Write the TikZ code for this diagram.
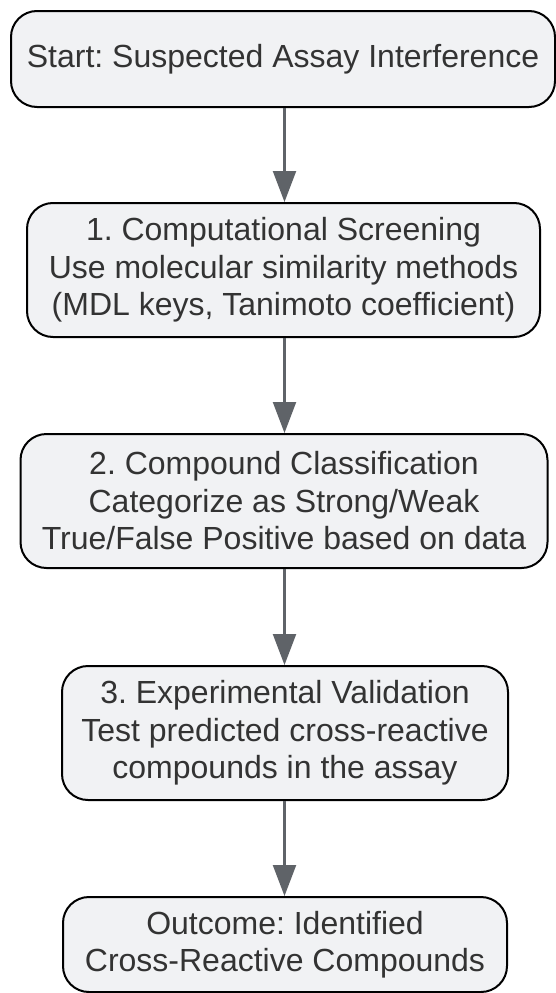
\documentclass[tikz,border=0pt]{standalone}
\usepackage{fontspec}
\setmainfont{Liberation Sans}
\usetikzlibrary{arrows.meta}
\definecolor{boxfill}{HTML}{F1F2F4}
\definecolor{arrowgray}{HTML}{5F6368}
\definecolor{textgray}{HTML}{333333}
\frenchspacing
\begin{document}
\begin{tikzpicture}[x=1pt,y=-1pt,
  flowbox/.style={draw=black, line width=2pt, fill=boxfill, rounded corners=26pt,
    inner sep=0pt, align=center, text=textgray,
    font=\fontsize{32}{37.5}\selectfont},
  flowarrow/.style={draw=arrowgray, line width=2.2pt,
    -{Triangle[length=31pt,width=23pt]}, color=arrowgray}]
\useasboundingbox (0,0) rectangle (556,993);
\node[flowbox, minimum width=544pt, minimum height=96pt] (s) at (283,59)
  {Start: Suspected Assay Interference};
\node[flowbox, minimum width=513pt, minimum height=134pt] (b1) at (283.5,270)
  {1. Computational Screening\\Use molecular similarity methods\\(MDL keys, Tanimoto coefficient)};
\node[flowbox, minimum width=527pt, minimum height=134pt] (b2) at (284,501)
  {2. Compound Classification\\Categorize as Strong/Weak\\True/False Positive based on data};
\node[flowbox, minimum width=446pt, minimum height=134pt] (b3) at (285,733)
  {3. Experimental Validation\\Test predicted cross-reactive\\compounds in the assay};
\node[flowbox, minimum width=444pt, minimum height=95pt] (b4) at (285,944.5)
  {Outcome: Identified\\Cross-Reactive Compounds};
\draw[flowarrow] (s.south -| 284.5,0) -- (b1.north -| 284.5,0);
\draw[flowarrow] (b1.south -| 284.5,0) -- (b2.north -| 284.5,0);
\draw[flowarrow] (b2.south -| 284.5,0) -- (b3.north -| 284.5,0);
\draw[flowarrow] (b3.south -| 284.5,0) -- (b4.north -| 284.5,0);
\end{tikzpicture}
\end{document}
